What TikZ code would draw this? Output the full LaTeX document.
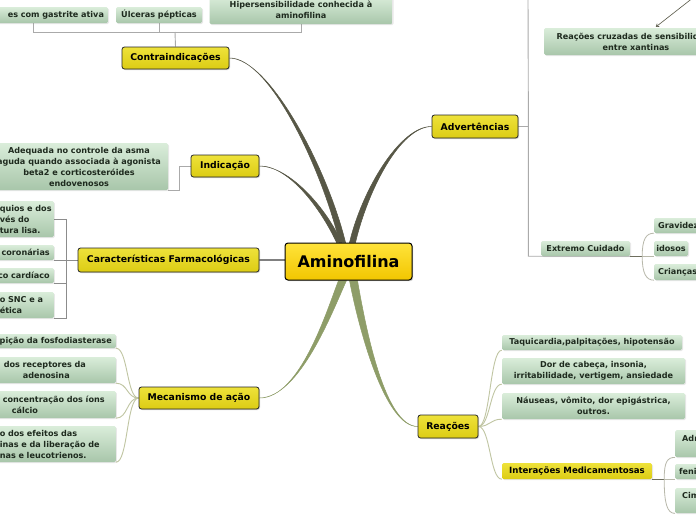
\documentclass[tikz,border=0pt]{standalone}
\usepackage{fontspec}
\setmainfont{DejaVu Sans}
\usetikzlibrary{shadows,calc,arrows.meta}
\pgfdeclarelayer{bg}
\pgfsetlayers{bg,main}
\definecolor{ytop}{HTML}{EEE23A}
\definecolor{ybot}{HTML}{DCCC14}
\definecolor{rtop}{HTML}{FFE33A}
\definecolor{rbot}{HTML}{F2C600}
\definecolor{gtop}{HTML}{DAEDDA}
\definecolor{gbot}{HTML}{A8C6AA}
\definecolor{gtext}{HTML}{1E2A1E}
\definecolor{darkbr}{HTML}{575746}
\definecolor{olivebr}{HTML}{8E9D68}
\definecolor{olivelt}{HTML}{C0C5A2}
\definecolor{treegray}{HTML}{AAAAAA}
\definecolor{treedark}{HTML}{8C8C8C}
\definecolor{bracket}{HTML}{B8B8AA}
\definecolor{stubdark}{HTML}{6E6E5E}
\begin{document}
\begin{tikzpicture}[x=1pt,y=-1pt,
  rootn/.style={draw=black, line width=1pt, rounded corners=3pt, top color=rtop, bottom color=rbot,
    text=black, font=\fontsize{16}{18}\selectfont\bfseries, inner sep=0pt,
    drop shadow={shadow xshift=1.2pt, shadow yshift=-1.2pt, opacity=0.35}},
  l1/.style={draw=black!85, line width=0.8pt, rounded corners=2.5pt, top color=ytop, bottom color=ybot,
    text=black, font=\fontsize{9.3}{11}\selectfont\bfseries, inner sep=0pt,
    drop shadow={shadow xshift=1pt, shadow yshift=-1pt, opacity=0.35}},
  l2y/.style={rounded corners=1.5pt, top color=ytop, bottom color=ybot, text=black,
    font=\fontsize{8.6}{11}\selectfont\bfseries, inner sep=0pt,
    drop shadow={shadow xshift=1pt, shadow yshift=-1pt, opacity=0.2}},
  sub/.style={rounded corners=1.5pt, top color=gtop, bottom color=gbot, text=gtext,
    font=\fontsize{8.1}{11}\selectfont\bfseries, inner sep=0pt, align=center,
    drop shadow={shadow xshift=1pt, shadow yshift=-1pt, opacity=0.18}},
  tree/.style={draw=treegray, line width=0.9pt},
  treed/.style={draw=treedark, line width=0.9pt},
  mainline/.style={draw=gray, line width=1.6pt},
  oliveline/.style={draw=olivelt, line width=0.9pt},
  brk/.style={draw=bracket, line width=0.8pt},
  stub/.style={draw=stubdark, line width=0.9pt},
  darkfill/.style={fill=darkbr, draw=darkbr, line width=0.5pt},
  olivefill/.style={fill=olivebr, draw=olivebr, line width=0.5pt},
  relarrow/.style={draw=darkbr, line width=0.6pt, -{To[length=3pt,width=4pt]}}
]
\useasboundingbox (0,0) rectangle (696,520);
\begin{scope}
\clip (0,0) rectangle (696,520);
% root and main branches
\node[rootn, minimum width=127, minimum height=37] (root) at (348.5,261.5) {Aminofilina};
\node[l1, minimum width=107, minimum height=22] (contra) at (175.5,58) {Contraindicações};
\node[l1, minimum width=68, minimum height=22] (ind) at (225,166) {Indicação};
\node[l1, minimum width=181, minimum height=24] (caract) at (168.5,260) {Características Farmacológicas};
\node[l1, minimum width=120, minimum height=22] (mec) at (199,398) {Mecanismo de ação};
\node[l1, minimum width=86, minimum height=23] (adv) at (475,126.5) {Advertências};
\node[l1, minimum width=60, minimum height=23] (rea) at (448,426.5) {Reações};
% contraindicacoes
\node[sub, minimum height=16, text width=142, inner xsep=4pt, align=right] (g1) at (33,15) {es com gastrite ativa};
\node[sub, minimum width=86, minimum height=16] (g2) at (159,15) {Úlceras pépticas};
\node[sub, minimum width=183, minimum height=28] (g3) at (301,10) {Hipersensibilidade conhecida à\\aminofilina};
% indicacao
\node[sub, minimum width=178, minimum height=47] (gind) at (79,166.5) {Adequada no controle da asma\\aguda quando associada à agonista\\beta2 e corticosteróides\\endovenosos};
% caracteristicas
\node[sub, anchor=east, minimum height=36, text width=50, inner xsep=4pt, align=left] (c1) at (54,219) {\mbox{quios e dos}\\vés do\\tura lisa.};
\node[sub, anchor=east, minimum height=15, text width=150, inner xsep=4pt, align=right] (c2) at (54,252.5) {coronárias};
\node[sub, anchor=east, minimum height=15, text width=150, inner xsep=4pt, align=right] (c3) at (54,275.5) {co cardíaco};
\node[sub, anchor=east, minimum height=26, text width=50, inner xsep=4pt, align=left] (c4) at (54,305) {o SNC e a\\ética};
% mecanismo
\node[sub, anchor=east, minimum height=14, text width=150, inner xsep=4pt, align=right] (m1) at (116,341) {pição da fosfodiasterase};
\node[sub, anchor=east, minimum height=26, text width=112, inner xsep=4pt, align=left] (m2) at (116,370) {\hspace*{4pt}dos receptores da\\\hspace*{23pt}adenosina};
\node[sub, anchor=east, minimum height=27, text width=112, inner xsep=4pt, align=left] (m3) at (116,404.5) {\hspace*{3pt}concentração dos íons\\\hspace*{12pt}cálcio};
\node[sub, anchor=east, minimum height=36, text width=112, inner xsep=4pt, align=left] (m4) at (116,444) {o dos efeitos das\\inas e da liberação de\\nas e leucotrienos.};
% advertencias
\node[sub, minimum width=184, minimum height=27] (rc) at (636,41.5) {Reações cruzadas de sensibilidade\\entre xantinas};
\node[sub, minimum width=89, minimum height=15] (ext) at (585.5,248.5) {Extremo Cuidado};
\node[sub, anchor=west, minimum height=15, text width=52, inner xsep=4pt, align=left] (gr) at (654,225.5) {Gravidez};
\node[sub, minimum width=34, minimum height=15] (id) at (671,248.5) {idosos};
\node[sub, anchor=west, minimum height=16, text width=52, inner xsep=4pt, align=left] (cr) at (654,272) {Crianças};
% reacoes
\node[sub, minimum width=180, minimum height=15] (r1) at (592,342.5) {Taquicardia,palpitações, hipotensão};
\node[sub, minimum width=183, minimum height=26] (r2) at (593.5,371) {Dor de cabeça, insonia,\\irritabilidade, vertigem, ansiedade};
\node[sub, minimum width=183, minimum height=26] (r3) at (593.5,406) {Náuseas, vômito, dor epigástrica,\\outros.};
\node[l2y, minimum width=150, minimum height=16] (int) at (577,471) {Interações Medicamentosas};
\node[sub, anchor=north west, minimum height=27, text width=46, inner xsep=7pt, align=left] (a1) at (675,430) {Adr\\\mbox{}};
\node[sub, anchor=west, minimum height=15, text width=52, inner xsep=4pt, align=left] (a2) at (675,471.5) {feni};
\node[sub, anchor=north west, minimum height=25, text width=46, inner xsep=7pt, align=left] (a3) at (675,488) {Cim\\\mbox{}};
% relationship arrow
\coordinate (asrc) at (694,-3);
\draw[relarrow] (asrc) -- ($(rc.north)+(20,-1)$);
\end{scope}

\begin{pgfonlayer}{bg}
\fill[white] (0,0) rectangle (696,520);
\clip (0,0) rectangle (696,520);
% tapered main branches
\path[darkfill] (contra.east) .. controls (270,57.6) and (322,170) .. ($(root.north)+(-9,0)$)
  -- ($(root.north)+(-3,0)$) .. controls (328,170) and (270,58.4) .. (contra.east) -- cycle;
\path[darkfill] (ind.east) .. controls (290,165.6) and (322,211) .. ($(root.north)+(-12,0)$)
  -- ($(root.north)+(-7,0)$) .. controls (327,209) and (290,166.4) .. (ind.east) -- cycle;
\path[darkfill] (adv.west) .. controls (400,126.1) and (362,190) .. ($(root.north)+(1,0)$)
  -- ($(root.north)+(7,0)$) .. controls (368,190) and (400,126.9) .. (adv.west) -- cycle;
\path[olivefill] (mec.east) .. controls (300,398.4) and (327,310) .. ($(root.south)+(-10,0)$)
  -- ($(root.south)+(-2,0)$) .. controls (333,310) and (300,397.6) .. (mec.east) -- cycle;
\path[olivefill] (rea.west) .. controls (385,426.9) and (359,330) .. ($(root.south)+(1,0)$)
  -- ($(root.south)+(9,0)$) .. controls (366,330) and (385,426.1) .. (rea.west) -- cycle;
\draw[mainline] (caract.east) -- (caract.east -| root.west);
% contraindicacoes tree
\coordinate (cj) at (175,32);
\draw[tree] (contra.north) -- (cj);
\draw[tree] (cj) -| (g1.south);
\draw[tree] (cj) -| (g2.south);
\draw[tree] (cj) -| (g3.south);
% indicacao
\draw[tree] (ind.west) -- ++(-11,0) |- (gind.south east);
% caracteristicas
\draw[treed] (caract.west) -- ++(-11,0) coordinate (cj2);
\draw[treed] (cj2) |- (c1.east);
\draw[treed] (cj2) |- (c2.south east);
\draw[treed] (cj2) |- (c3.south east);
\draw[treed] (cj2) |- (c4.south east);
% mecanismo
\foreach \m in {m1,m2,m3,m4}
  \draw[oliveline] (mec.west) .. controls +(-12,0) and +(12,0) .. (\m.south east);
% reacoes
\foreach \r in {r1,r2,r3,int}
  \draw[oliveline] (rea.east) .. controls +(12,0) and +(-12,0) .. (\r.south west);
% advertencias
\coordinate (atop) at (528,-5);
\draw[tree] (adv.east) -- ++(10,0) coordinate (aj);
\draw[tree] (atop) -- (aj) |- (ext.south east);
\draw[stub] (ext.south east) -- ++(12,0) coordinate (ej);
\draw[brk] (ej) .. controls +(0,-17) and +(-8,0) .. (gr.south west);
\draw[brk] (ej) -- (id.south west);
\draw[brk] (ej) .. controls +(0,17) and +(-8,0) .. (cr.south west);
% interacoes
\draw[stub] (int.south east) -- ++(12,0) coordinate (ij);
\draw[brk] (ij) .. controls +(0,-17) and +(-8,0) .. (a1.south west);
\draw[brk] (ij) -- (a2.south west);
\draw[brk] (ij) .. controls +(0,24) and +(-8,0) .. (a3.south west);
\end{pgfonlayer}
\end{tikzpicture}
\end{document}
